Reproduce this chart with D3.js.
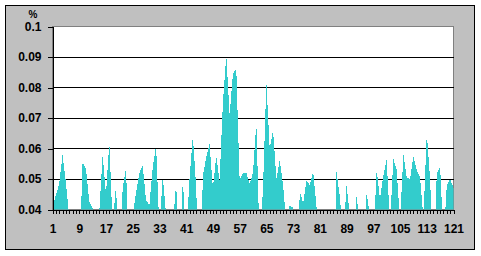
<!DOCTYPE html>
<html>
<head>
<meta charset="utf-8">
<script src="https://cdn.jsdelivr.net/npm/d3@7/dist/d3.min.js"></script>
<style>
  body { margin: 0; background: #fff; }
  svg { display: block; }
  text { font-family: "Liberation Sans", Arial, sans-serif; font-weight: bold; }
</style>
</head>
<body>
<script>
// categories on the x axis (1..121)
const categories = d3.range(1, 122);

// % values, one per category
const values = [
  0.0405, 0.0447, 0.0483, 0.058, 0.049, 0.038, 0.02, 0.0415, 0.02, 0.0557,
  0.0535, 0.0425, 0.0405, 0.015, 0.039, 0.058, 0.045, 0.062, 0.035, 0.048,
  0.02, 0.047, 0.0537, 0.02, 0.038, 0.0455, 0.052, 0.0545, 0.043, 0.0415,
  0.054, 0.061, 0.033, 0.0511, 0.038, 0.01, 0.035, 0.0485, 0.025, 0.0497,
  0.03, 0.05, 0.0643, 0.0473, 0.01, 0.051, 0.057, 0.0615, 0.047, 0.0575,
  0.0495, 0.075, 0.0907, 0.071, 0.0845, 0.0862, 0.0497, 0.0519, 0.0521, 0.0485,
  0.052, 0.0686, 0.028, 0.047, 0.0818, 0.06, 0.066, 0.05, 0.0563, 0.048,
  0.035, 0.0415, 0.0405, 0.01, 0.046, 0.042, 0.0495, 0.048, 0.0526, 0.041,
  0.02, 0.015, 0.015, 0.015, 0.012, 0.0525, 0.044, 0.03, 0.048, 0.038,
  0.02, 0.0445, 0.035, 0.024, 0.0455, 0.038, 0.029, 0.053, 0.0435, 0.051,
  0.0566, 0.035, 0.0566, 0.053, 0.036, 0.058, 0.0505, 0.05, 0.0575, 0.053,
  0.0506, 0.037, 0.065, 0.05, 0.02, 0.052, 0.054, 0.03, 0.048, 0.05,
  0.047
];

const yTicks = [0.04, 0.05, 0.06, 0.07, 0.08, 0.09, 0.1];
const xLabels = [1, 9, 17, 25, 33, 41, 49, 57, 65, 73, 81, 89, 97, 105, 113, 121];
const yTitle = "%";

const width = 481, height = 256;
const plot = { left: 52.5, right: 453.5, top: 26.5, bottom: 209.5 };

const svg = d3.select("body").append("svg")
  .attr("width", width)
  .attr("height", height);

// gray chart area with black border
svg.append("rect")
  .attr("x", 5.5).attr("y", 5.5)
  .attr("width", 469).attr("height", 244)
  .attr("fill", "#c0c0c0")
  .attr("stroke", "#000")
  .attr("shape-rendering", "crispEdges");

const x = d3.scaleLinear().domain([1, 121]).range([plot.left, plot.right]);
const y = d3.scaleLinear().domain([0.04, 0.1]).range([plot.bottom, plot.top]);

// white plot area, gray border
svg.append("rect")
  .attr("x", plot.left).attr("y", plot.top)
  .attr("width", plot.right - plot.left).attr("height", plot.bottom - plot.top)
  .attr("fill", "#fff")
  .attr("stroke", "#808080")
  .attr("shape-rendering", "crispEdges");

svg.append("clipPath").attr("id", "clip")
  .append("rect")
  .attr("x", plot.left).attr("y", plot.top)
  .attr("width", plot.right - plot.left).attr("height", plot.bottom - plot.top);

// gridlines sit behind the area
svg.append("g")
  .selectAll("line")
  .data(yTicks.filter(d => d > 0.04 && d < 0.1))
  .join("line")
  .attr("x1", plot.left).attr("x2", plot.right)
  .attr("y1", d => y(d)).attr("y2", d => y(d))
  .attr("stroke", "#000")
  .attr("shape-rendering", "crispEdges");

// area
const area = d3.area()
  .x((d, i) => x(categories[i]))
  .y0(y(0.04))
  .y1(d => y(d));

svg.append("path")
  .datum(values)
  .attr("clip-path", "url(#clip)")
  .attr("fill", "#33cccc")
  .attr("shape-rendering", "crispEdges")
  .attr("d", area);

// y axis
const yAxis = svg.append("g")
  .attr("transform", `translate(${plot.left},0)`)
  .call(d3.axisLeft(y).tickValues(yTicks).tickSize(5).tickSizeOuter(0)
    .tickFormat(d => d3.format("")(+d.toFixed(2))));
yAxis.selectAll("line, path").attr("stroke", "#000").attr("shape-rendering", "crispEdges");
yAxis.selectAll("text")
  .attr("x", -11)
  .attr("fill", "#000")
  .style("font-size", "12px");

// x axis
const xAxis = svg.append("g")
  .attr("transform", `translate(0,${plot.bottom})`)
  .call(d3.axisBottom(x).tickValues(categories).tickSize(4).tickSizeOuter(0)
    .tickFormat(d => xLabels.includes(d) ? d : ""));
xAxis.selectAll("line, path").attr("stroke", "#000").attr("shape-rendering", "crispEdges");
xAxis.selectAll("text")
  .attr("y", 15)
  .attr("fill", "#000")
  .style("font-size", "12px");

// axis title
svg.append("text")
  .attr("x", 33).attr("y", 18)
  .attr("text-anchor", "middle")
  .style("font-size", "10px")
  .text(yTitle);
</script>
</body>
</html>
